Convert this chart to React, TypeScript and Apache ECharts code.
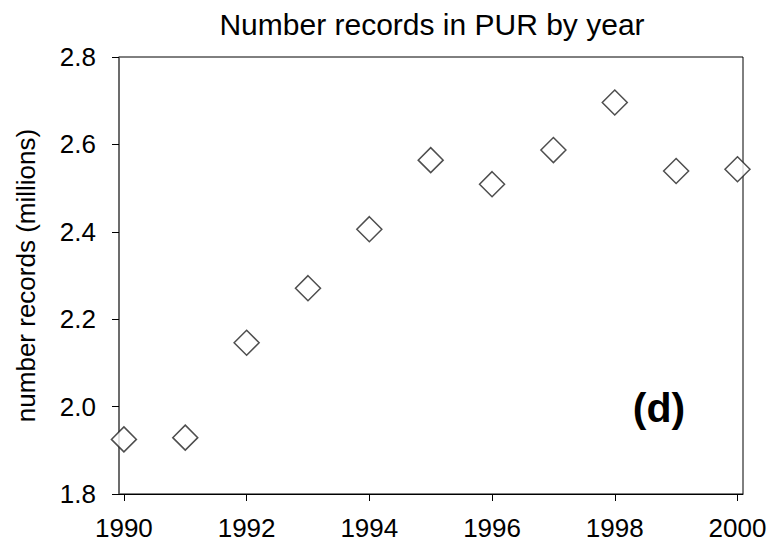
import React, { useEffect, useRef } from "react";
import * as echarts from "echarts";

const years = [1990, 1991, 1992, 1993, 1994, 1995, 1996, 1997, 1998, 1999, 2000];
const records = [1.925, 1.929, 2.146, 2.271, 2.406, 2.564, 2.509, 2.587, 2.696, 2.539, 2.543];
const xTicks = [1990, 1992, 1994, 1996, 1998, 2000];
const titleText = "Number records in PUR by year";
const yName = "number records (millions)";
const panelLabel = "(d)";

const FONT = "'Liberation Sans', Arial, sans-serif";

export default function App() {
  const ref = useRef<HTMLDivElement>(null);
  useEffect(() => {
    if (!ref.current) return;
    const chart = echarts.init(ref.current, undefined, { renderer: "svg" });
    chart.setOption({
      animation: false,
      backgroundColor: "#fff",
      title: {
        text: titleText,
        left: 427,
        textAlign: "center",
        top: 4,
        textStyle: { fontFamily: FONT, fontSize: 30, fontWeight: "normal", color: "#000" },
      },
      grid: {
        left: 119,
        right: 30,
        top: 57,
        bottom: 49,
        show: true,
        borderColor: "#000",
        borderWidth: 1,
        backgroundColor: "transparent",
      },
      xAxis: {
        type: "value",
        min: 1989.92,
        max: 2000.09,
        splitLine: { show: false },
        axisLine: { show: true, onZero: false, lineStyle: { color: "#000", width: 1 } },
        axisTick: { show: true, inside: false, length: 7, customValues: xTicks, lineStyle: { color: "#000" } },
        axisLabel: {
          customValues: xTicks,
          fontFamily: FONT,
          fontSize: 26,
          lineHeight: 26,
          color: "#000",
          margin: 21,
          formatter: (v: number) => String(v),
        },
      },
      yAxis: {
        type: "value",
        min: 1.8,
        max: 2.8,
        interval: 0.2,
        name: yName,
        nameLocation: "middle",
        nameGap: 80,
        nameTextStyle: { fontFamily: FONT, fontSize: 26, color: "#000" },
        splitLine: { show: false },
        axisLine: { show: true, onZero: false, lineStyle: { color: "#666", width: 1.5 } },
        axisTick: { show: true, inside: false, length: 7, lineStyle: { color: "#000" } },
        axisLabel: {
          fontFamily: FONT,
          fontSize: 26,
          color: "#000",
          margin: 23,
          formatter: (v: number) => v.toFixed(1),
        },
      },
      series: [
        {
          type: "scatter",
          data: years.map((y, i) => [y, records[i]]),
          symbol: "diamond",
          symbolSize: 25,
          clip: false,
          itemStyle: { color: "#fff", borderColor: "#222", borderWidth: 1.5 },
        },
      ],
      graphic: [
        {
          type: "text",
          x: 659,
          y: 408,
          style: {
            text: panelLabel,
            font: `bold 41px ${FONT}`,
            fill: "#000",
            align: "center",
            verticalAlign: "middle",
          },
        },
      ],
    });
    return () => chart.dispose();
  }, []);
  return <div ref={ref} style={{ width: 773, height: 543, position: "absolute", left: 0, top: 0 }} />;
}
